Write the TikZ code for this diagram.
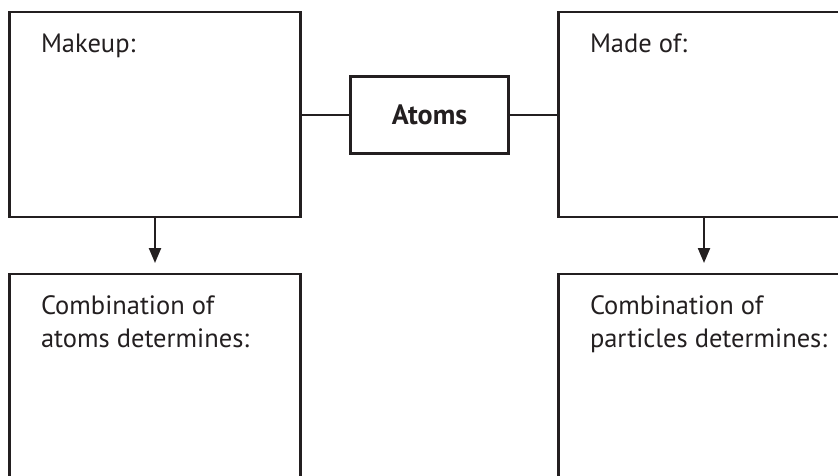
\documentclass[tikz,border=0pt]{standalone}
\usepackage{fontspec}
\setmainfont{PT Sans}
\usetikzlibrary{arrows.meta}
\definecolor{ink}{HTML}{231F20}
\begin{document}
\begin{tikzpicture}[x=1pt,y=-1pt,
  every node/.style={inner sep=0pt, outer sep=0pt},
  panel/.style={draw=ink, line width=2.2pt, rectangle, minimum width=291pt},
  hub/.style={draw=ink, line width=2.2pt, rectangle, minimum width=158pt, minimum height=77pt,
    font=\fontsize{28}{34}\selectfont\bfseries, text=ink},
  caption/.style={anchor=base west, align=left, text=ink,
    font=\fontsize{26.5}{32.5}\selectfont},
  link/.style={draw=ink, line width=2.2pt},
  flow/.style={link, -{Triangle[width=12pt,length=15pt]}}]
  \useasboundingbox (0,0) rectangle (838,475);
  \clip (0,0) rectangle (838,475);
  % upper panels and the central hub
  \node[panel, minimum height=205pt] (makeup) at (155,114.5) {};
  \node[panel, minimum height=205pt] (madeof) at (704,114.5) {};
  \node[hub] (atoms) at (429.5,115) {Atoms};
  % lower panels run past the bottom edge
  \node[panel, minimum height=240pt] (combA) at (155,394) {};
  \node[panel, minimum height=240pt] (combP) at (704,394) {};
  % coordinates where the arrows stop short of the lower panels
  \coordinate (tipA) at (155,263);
  \coordinate (tipP) at (704,263);
  % captions (base anchor sits on the last line)
  \node[caption] (lblMakeup) at (41,52) {Makeup:};
  \node[caption] (lblMadeof) at (590,52) {Made of:};
  \node[caption] (lblCombA) at (41,347) {Combination of\\atoms determines:};
  \node[caption] (lblCombP) at (590,347) {Combination of\\particles determines:};
  % connectors
  \draw[link] (makeup.east |- atoms.west) -- (atoms.west);
  \draw[link] (atoms.east) -- (madeof.west |- atoms.east);
  \draw[flow] (makeup.south) -- (tipA);
  \draw[flow] (madeof.south) -- (tipP);
\end{tikzpicture}
\end{document}
